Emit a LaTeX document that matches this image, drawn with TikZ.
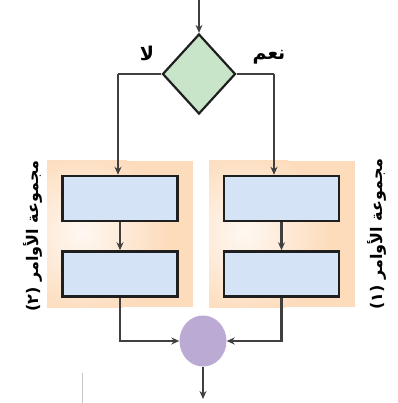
\documentclass[tikz,border=0pt]{standalone}
\usepackage{fontspec}
\newfontfamily\arabicfont[Script=Arabic]{DejaVu Sans}
\TeXXeTstate=1
\usetikzlibrary{shapes.geometric,arrows.meta}
\definecolor{peach}{HTML}{FDDCBC}
\definecolor{boxblue}{HTML}{D4E3F5}
\definecolor{diagreen}{HTML}{C9E5C9}
\definecolor{joinpurple}{HTML}{BAAAD4}
\definecolor{linegray}{HTML}{404040}
\tikzset{
  conn/.style={draw=linegray, line width=2.3pt},
  arr/.style={conn, -{Stealth[length=8pt,width=7pt]}},
  stepbox/.style={draw=black!88, line width=2.5pt, fill=boxblue, minimum width=115pt, minimum height=45pt, inner sep=0pt},
  decision/.style={diamond, draw=black!88, line width=2.2pt, fill=diagreen, minimum width=73pt, minimum height=80pt, inner sep=0pt},
  joint/.style={ellipse, fill=joinpurple, minimum width=47pt, minimum height=51pt, inner sep=0pt},
  grouplabel/.style={rotate=90, font=\arabicfont\bfseries\fontsize{16}{19}\selectfont},
  branchlabel/.style={font=\arabicfont\bfseries\fontsize{19}{22}\selectfont}
}
\newcommand{\grouppanel}[4]{%
  \fill[peach] (#1,#2) rectangle (#3,#4);
  \begin{scope}
    \clip (#1,#2) rectangle (#3,#4);
    \shade[inner color=peach!20, outer color=peach] (#1+35,#2+72) ellipse (85 and 85);
  \end{scope}}
\begin{document}
\begin{tikzpicture}[x=1pt,y=-1pt]
  \useasboundingbox (0,0) rectangle (397,403);

  % background panels for the two command groups
  \grouppanel{47}{161}{193}{307}
  \grouppanel{209}{161}{355}{307}

  % decision and join
  \coordinate (start) at (199,0);
  \node[decision] (dec) at (199,74) {};
  \node[joint] (join) at (203,341) {};
  \coordinate (finish) at (203,399);

  % command boxes
  \node[stepbox] (lt) at (120,198.5) {};
  \node[stepbox] (lb) at (120,274) {};
  \node[stepbox] (rt) at (281.5,198.5) {};
  \node[stepbox] (rb) at (281.5,274) {};

  % branch corners
  \coordinate (lc) at (118,74);
  \coordinate (rc) at (274,74);

  % connectors
  \draw[arr] (start) -- (dec.north);
  \draw[conn] (dec.west) -- (lc);
  \draw[arr] (lc) -- (lc |- lt.north);
  \draw[conn] (dec.east) -- (rc);
  \draw[arr] (rc) -- (rc |- rt.north);
  \draw[arr] (lt.south) -- (lb.north);
  \draw[arr] (rt.south) -- (rb.north);
  \draw[arr] (lb.south) |- (join.west);
  \draw[arr] (rb.south) |- (join.east);
  \draw[arr] (join.south) -- (finish);

  % branch labels
  \node[branchlabel] (no) at (147,53) {\beginR لا\endR};
  \node[branchlabel] (yes) at (269,57) {\beginR نعم\endR};

  % group labels
  \node[grouplabel] (g2) at (33,236) {\beginR مجموعة الأوامر (٢)\endR};
  \node[grouplabel] (g1) at (377,234) {\beginR مجموعة الأوامر (١)\endR};

  % thin rule at the bottom left
  \coordinate (ra) at (82,373);
  \coordinate (rbm) at (82,403);
  \draw[gray!45, line width=1pt] (ra) -- (rbm);
\end{tikzpicture}
\end{document}
